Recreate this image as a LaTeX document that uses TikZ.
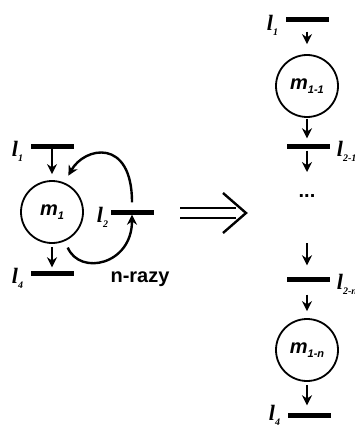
\documentclass[tikz,border=0pt]{standalone}
\usepackage{fontspec}
\setmainfont{Liberation Serif}
\setsansfont{Liberation Sans}
\usetikzlibrary{arrows.meta,positioning}
\newcommand{\mlab}[1]{{\sffamily\bfseries\itshape\fontsize{20}{20}\selectfont m\raisebox{-0.4ex}{\fontsize{11}{11}\selectfont #1}}}
\newcommand{\llab}[1]{{\bfseries\itshape\fontsize{22}{22}\selectfont l\raisebox{-0.5ex}{\fontsize{10}{10}\selectfont #1}}}

\begin{document}
\begin{tikzpicture}[x=1pt, y=-1pt, >={Stealth[length=10pt,width=10pt]},
    bar/.style={fill=black, minimum width=43pt, minimum height=5pt, inner sep=0pt},
    proc/.style={circle, draw, line width=1.8pt, minimum size=62pt, inner sep=0pt},
    lab/.style={inner sep=1pt, yshift=-5pt},
    flow/.style={->, line width=2.4pt}]
  \useasboundingbox (0,0) rectangle (355,425);

  % left: one machine with feedback
  \node[bar]  (l1bar) at (52,146) {};
  \node[proc] (m1)    at (52,212) {\mlab{1}};
  \node[bar]  (l4bar) at (52,273) {};
  \node[bar]  (l2bar) at (132,212) {};
  \node[lab, left=6pt of l1bar] (l1) {\llab{1}};
  \node[lab, left=6pt of l4bar] (l4) {\llab{4}};
  \node[lab, left=1pt of l2bar] (l2) {\llab{2}};
  \node[anchor=base, font=\sffamily\bfseries\fontsize{20}{20}\selectfont] (nrazy) at (140,282) {n-razy};

  \draw[flow, shorten >=6pt] (l1bar.south) -- (m1.north);
  \draw[flow, shorten <=3pt, shorten >=3pt] (m1.south) -- (l4bar.north);
  \draw[flow, shorten <=7pt, shorten >=8pt]
    (l2bar.north) .. controls +(0,-72) and +(20,-36) .. (m1.67);
  \draw[flow, shorten <=7pt]
    (m1.-66) .. controls +(15,35) and +(0,50) .. (l2bar.south);

  % implies
  \draw[line width=2.4pt] (180,208) -- (236,208) (180,218) -- (236,218);
  \draw[line width=2.4pt] (223,193) -- (246,213) -- (223,233);

  % right: unrolled chain
  \node[bar]  (r1bar)  at (307,20) {};
  \node[proc] (m11)    at (307,86) {\mlab{1-1}};
  \node[bar]  (r21bar) at (308,146) {};
  \coordinate (gapa) at (307,172);
  \node[font=\sffamily\bfseries\fontsize{20}{20}\selectfont] (dots) at (307,196) {...};
  \coordinate (gapb) at (307,243);
  \node[bar]  (r2nbar) at (308,279) {};
  \node[proc] (m1n)    at (307,350) {\mlab{1-n}};
  \node[bar]  (r4bar)  at (309,415) {};
  \node[lab, left=6pt of r1bar] (rl1) {\llab{1}};
  \node[lab, left=6pt of r4bar, yshift=5pt] (rl4) {\llab{4}};
  \node[lab, right=6pt of r21bar] (rl21) {\llab{2-1}};
  \node[lab, right=6pt of r2nbar] (rl2n) {\llab{2-n}};

  \draw[flow, shorten <=9pt, shorten >=10pt] (r1bar.south) -- (m11.north);
  \draw[flow, shorten <=1pt, shorten >=5pt] (m11.south) -- (r21bar.north -| m11);
  \draw[flow, shorten <=2pt] (r21bar.south -| m11) -- (gapa);
  \draw[flow, shorten >=11pt] (gapb) -- (r2nbar.north -| gapb);
  \draw[flow, shorten <=13pt, shorten >=7pt] (r2nbar.south -| m1n) -- (m1n.north);
  \draw[flow, shorten <=3pt, shorten >=7pt] (m1n.south) -- (r4bar.north -| m1n);
\end{tikzpicture}
\end{document}
